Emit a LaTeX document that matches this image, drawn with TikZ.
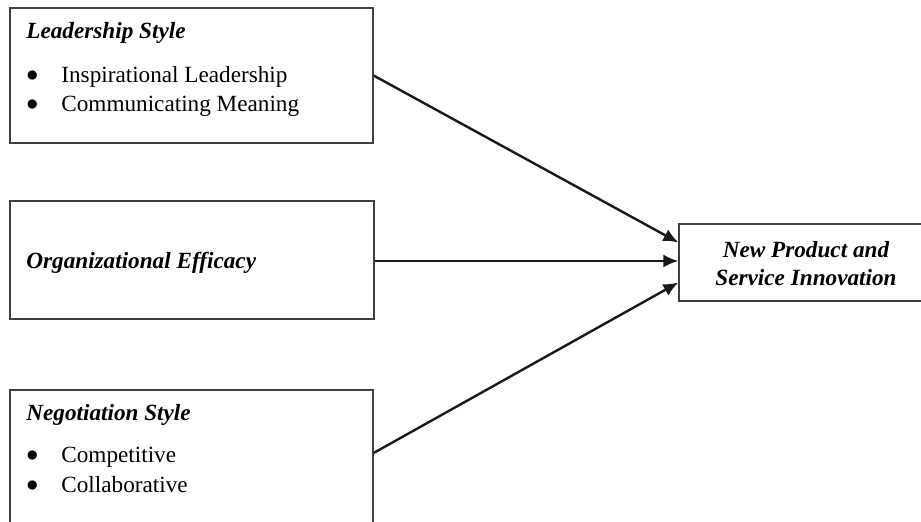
\documentclass[tikz,border=0pt]{standalone}
\usepackage{fontspec}
\setmainfont{Liberation Serif}
\usetikzlibrary{arrows.meta}

\tikzset{
  box/.style={draw=black!75, line width=0.6pt, inner sep=0pt},
  txt/.style={inner sep=0pt, anchor=base west, font=\fontsize{11.6}{14.5}\selectfont},
  head/.style={txt, font=\fontsize{11.6}{14}\selectfont\bfseries\itshape},
  arr/.style={draw=black!90, line width=1.2pt, -{Latex[length=7.5pt,width=6.5pt]}}
}
\newcommand{\bitem}[1]{\makebox[17.5pt][l]{\raisebox{0.3pt}{$\bullet$}}#1}

\begin{document}
\begin{tikzpicture}[x=0.5pt, y=-0.5pt]
\useasboundingbox (0, 0) rectangle (921, 521);
\clip (0, 0) rectangle (921, 521);

% the three boxes on the left
\node [box, minimum width=181.5pt, minimum height=67.5pt] (lead) at (191.5, 75.5) {};
\node [box, minimum width=182pt, minimum height=59pt] (org) at (192, 260) {};
\node [box, minimum width=181.5pt, minimum height=67pt] (nego) at (191.5, 457) {};

% the outcome box
\node [box, minimum width=127pt, minimum height=38.5pt] (npsi) at (806, 262.5) {};

\node [head] (leadT) at (26, 38) {Leadership Style};
\node [txt] (leadA) at (26, 82) {\bitem{Inspirational Leadership}};
\node [txt] (leadB) at (26, 111) {\bitem{Communicating Meaning}};

\node [head] (orgT) at (26, 268) {Organizational Efficacy};

\node [head] (negoT) at (26, 420) {Negotiation Style};
\node [txt] (negoA) at (26, 462) {\bitem{Competitive}};
\node [txt] (negoB) at (26, 492) {\bitem{Collaborative}};

\node [head, anchor=center, align=center] (npsiT) at (806, 264)
  {New Product and\\Service Innovation};

\draw [arr] (org.east) ++(0, 1) coordinate (orgE) -- (orgE -| npsi.west);
\draw [arr] (lead.east) -- ([yshift=10pt]npsi.west);
\draw [arr] ([yshift=2pt]nego.east) -- ([yshift=-10pt]npsi.west);

\end{tikzpicture}
\end{document}
